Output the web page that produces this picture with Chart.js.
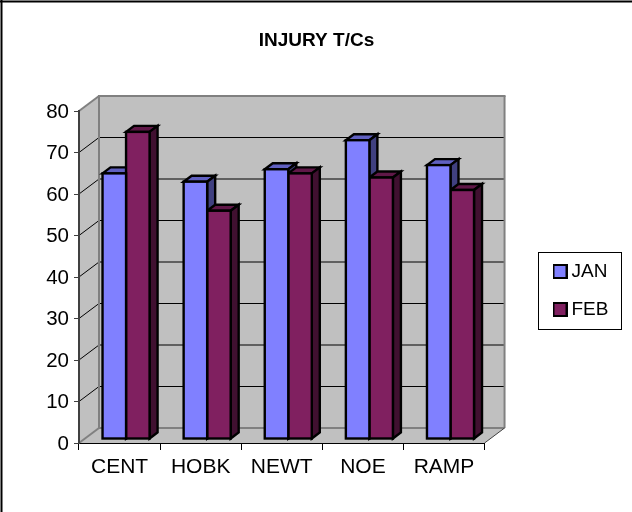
<!DOCTYPE html>
<html>
<head>
<meta charset="utf-8">
<style>html,body{margin:0;padding:0;background:#fff}#w{width:632px;height:512px;position:relative}</style>
<script src="https://cdn.jsdelivr.net/npm/chart.js@4"></script>
</head>
<body>
<div id="w"><canvas id="c" width="632" height="512"></canvas></div>
<script>
const categories = ['CENT', 'HOBK', 'NEWT', 'NOE', 'RAMP'];
const janValues = [64, 62, 65, 72, 66];
const febValues = [74, 55, 64, 63, 60];
const chartTitle = 'INJURY T/Cs';
const yMax = 80;
const yStep = 10;

const FONT = '"Liberation Sans", Arial, sans-serif';
const WALL = {dx: 20, dy: -15};
const BAR = {shiftX: 6.5, shiftY: -4, dx: 8, dy: -6};
const shades = [
  {top: '#6060C0', side: '#404080'},
  {top: '#601848', side: '#401030'}
];

function poly(ctx, pts, fill, stroke, lw) {
  ctx.beginPath();
  pts.forEach((p, i) => i ? ctx.lineTo(p[0], p[1]) : ctx.moveTo(p[0], p[1]));
  ctx.closePath();
  if (fill) { ctx.fillStyle = fill; ctx.fill(); }
  if (stroke) { ctx.strokeStyle = stroke; ctx.lineWidth = lw; ctx.lineJoin = 'miter'; ctx.stroke(); }
}
function line(ctx, x1, y1, x2, y2, color, lw) {
  ctx.beginPath(); ctx.moveTo(x1, y1); ctx.lineTo(x2, y2);
  ctx.strokeStyle = color; ctx.lineWidth = lw; ctx.stroke();
}
function swatch(color) {
  const c = document.createElement('canvas');
  c.width = 15; c.height = 15;
  const x = c.getContext('2d');
  x.fillStyle = color; x.fillRect(1, 1, 13, 13);
  x.strokeStyle = '#000'; x.lineWidth = 2; x.strokeRect(1, 1, 13, 13);
  return c;
}

const room = {
  id: 'room',
  beforeDraw(chart) {
    const {ctx, chartArea: a, scales: {y}} = chart;
    const {dx, dy} = WALL;
    ctx.save();
    // outer frame
    line(ctx, 0, 1.5, 632, 1.5, '#000', 2);
    line(ctx, 1.5, 0, 1.5, 512, '#000', 2);
    // walls and floor
    poly(ctx, [[a.left + dx, a.top + dy], [a.right + dx, a.top + dy], [a.right + dx, a.bottom + dy], [a.left + dx, a.bottom + dy]], '#C0C0C0');
    poly(ctx, [[a.left, a.top], [a.left + dx, a.top + dy], [a.left + dx, a.bottom + dy], [a.left, a.bottom]], '#C0C0C0');
    poly(ctx, [[a.left, a.bottom], [a.left + dx, a.bottom + dy], [a.right + dx, a.bottom + dy], [a.right, a.bottom]], '#C0C0C0');
    // gridlines on both walls
    y.ticks.forEach(t => {
      const py = y.getPixelForValue(t.value);
      if (t.value > 0 && t.value < yMax) {
        line(ctx, a.left, py, a.left + dx, py + dy, '#000', 1);
        line(ctx, a.left + dx, py + dy, a.right + dx, py + dy, '#000', 1);
      }
    });
    // wall outlines
    const g = '#808080';
    line(ctx, a.left, a.top, a.left + dx, a.top + dy, g, 2);
    line(ctx, a.left + dx - 1, a.top + dy, a.right + dx + 1, a.top + dy, g, 2);
    line(ctx, a.left + dx, a.top + dy, a.left + dx, a.bottom + dy, g, 2);
    line(ctx, a.right + dx, a.top + dy, a.right + dx, a.bottom + dy, g, 2);
    line(ctx, a.left + dx, a.bottom + dy, a.right + dx, a.bottom + dy, g, 2);
    line(ctx, a.left, a.bottom, a.left + dx, a.bottom + dy, g, 2);
    line(ctx, a.right, a.bottom, a.right + dx, a.bottom + dy, '#404040', 1);
    ctx.restore();
  }
};

function rectOf(el) {
  const {x, y, width, base} = el.getProps(['x', 'y', 'width', 'base'], true);
  return {l: x - width / 2, r: x + width / 2, y, base};
}

const bars3d = {
  id: 'bars3d',
  // all side and top faces go first, JAN then FEB, so every front face covers them
  beforeDatasetsDraw(chart) {
    const {ctx} = chart;
    ctx.save();
    ctx.translate(BAR.shiftX, BAR.shiftY);
    chart.data.datasets.forEach((d, i) => {
      const s = shades[i];
      chart.getDatasetMeta(i).data.forEach(el => {
        const {l, r, y, base} = rectOf(el);
        poly(ctx, [[l, y], [l + BAR.dx, y + BAR.dy], [r + BAR.dx, y + BAR.dy], [r, y]], s.top, '#000', 2.4);
        poly(ctx, [[r, y], [r + BAR.dx, y + BAR.dy], [r + BAR.dx, base + BAR.dy], [r, base]], s.side, '#000', 2.4);
      });
    });
    ctx.restore();
  },
  beforeDatasetDraw(chart) {
    chart.ctx.save();
    chart.ctx.translate(BAR.shiftX, BAR.shiftY);
  },
  afterDatasetDraw(chart, args) {
    const {ctx} = chart;
    args.meta.data.forEach(el => {
      const {l, r, y, base} = rectOf(el);
      ctx.strokeStyle = '#000';
      ctx.lineWidth = 2.4;
      ctx.strokeRect(l, y, r - l, base - y);
    });
    ctx.restore();
  }
};

const placement = {
  id: 'placement',
  afterLayout(chart) {
    const lg = chart.legend;
    const w = lg.right - lg.left;
    lg.left = 539; lg.right = lg.left + w;
    lg.top += 34.5; lg.bottom += 34.5;
    chart.titleBlock.left = 0;
    chart.titleBlock.right = 633;
  },
  afterDraw(chart) {
    const {ctx} = chart;
    ctx.save();
    ctx.strokeStyle = '#000';
    ctx.lineWidth = 1;
    ctx.strokeRect(538.5, 252.5, 83, 77);
    ctx.restore();
  }
};

new Chart(document.getElementById('c'), {
  type: 'bar',
  data: {
    labels: categories,
    datasets: [
      {label: 'JAN', data: janValues, backgroundColor: '#8080FF', borderWidth: 0, clip: false,
       categoryPercentage: 0.58, barPercentage: 1},
      {label: 'FEB', data: febValues, backgroundColor: '#802060', borderWidth: 0, clip: false,
       categoryPercentage: 0.58, barPercentage: 1}
    ]
  },
  plugins: [room, bars3d, placement],
  options: {
    responsive: false,
    animation: false,
    devicePixelRatio: 1,
    layout: {padding: {left: 0, top: 0, right: 68, bottom: 0}},
    plugins: {
      tooltip: {enabled: false},
      title: {
        display: true, text: chartTitle, color: '#000',
        font: {family: FONT, size: 19, weight: 'bold'},
        padding: {top: 29, bottom: 59.2}
      },
      legend: {
        display: true, position: 'right',
        labels: {
          color: '#000', font: {family: FONT, size: 19},
          usePointStyle: true, pointStyleWidth: 4, boxHeight: 13, padding: 19,
          generateLabels(chart) {
            return Chart.defaults.plugins.legend.labels.generateLabels(chart).map(i => {
              i.pointStyle = swatch(i.fillStyle);
              return i;
            });
          }
        }
      }
    },
    scales: {
      x: {
        afterFit(s) { s.height = 69; },
        grid: {drawOnChartArea: false, color: '#000', tickLength: 7, tickWidth: 1, offset: true},
        border: {color: '#000', width: 1},
        ticks: {color: '#000', font: {family: FONT, size: 21}, padding: 5, maxRotation: 0}
      },
      y: {
        min: 0, max: yMax,
        afterFit(s) { s.width = 79; },
        grid: {drawOnChartArea: false, color: '#404040', tickLength: 5, tickWidth: 1},
        border: {color: '#404040', width: 2},
        ticks: {stepSize: yStep, color: '#000', font: {family: FONT, size: 20.5}, padding: 5, labelOffset: 1}
      }
    }
  }
});
</script>
</body>
</html>
